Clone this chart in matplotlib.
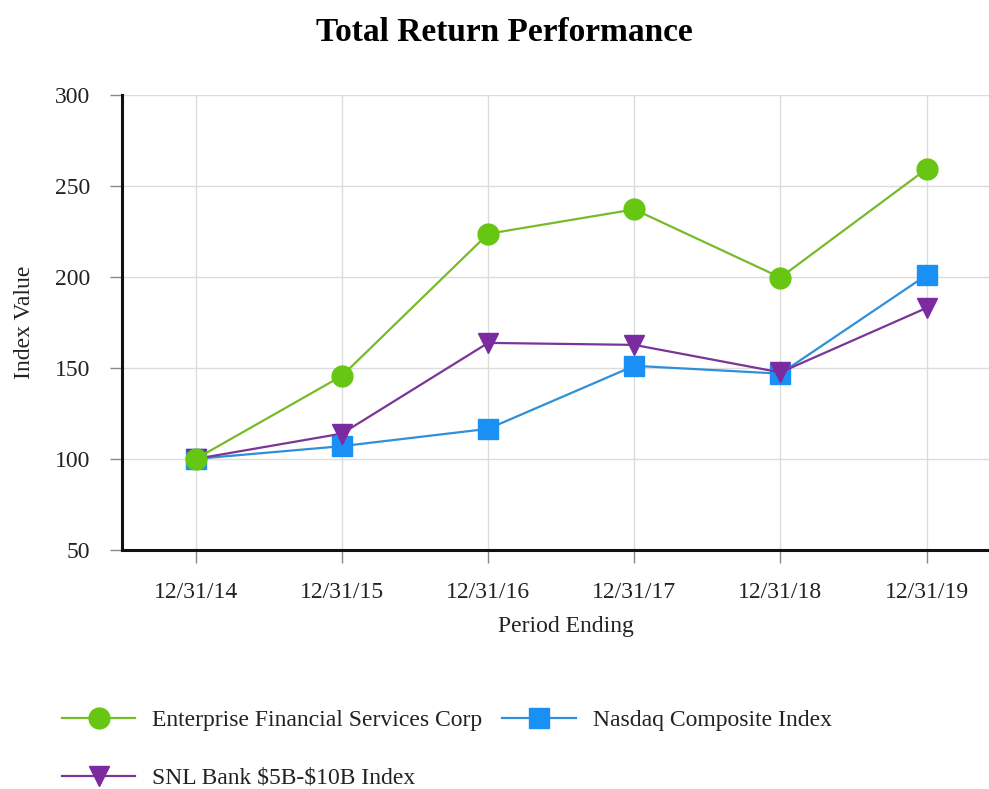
import matplotlib
matplotlib.use('Agg')
import matplotlib.pyplot as plt
from matplotlib.lines import Line2D

periods = ['12/31/14', '12/31/15', '12/31/16', '12/31/17', '12/31/18', '12/31/19']
enterprise = [100.0, 145.6, 223.6, 237.0, 199.6, 259.2]
nasdaq = [100.0, 107.0, 116.5, 151.1, 146.8, 200.9]
snl_bank = [100.0, 113.9, 163.7, 162.6, 147.5, 182.9]

names = ['Enterprise Financial Services Corp', 'Nasdaq Composite Index', r'SNL Bank \$5B-\$10B Index']

plt.rcParams['font.family'] = ['Liberation Serif', 'DejaVu Serif']

fig = plt.figure(figsize=(9.89, 7.89), dpi=100)
ax = fig.add_axes([0.1234, 0.303, 0.877, 0.577])
x = list(range(len(periods)))

l_nas, = ax.plot(x, nasdaq, color='#2f8fd8', lw=1.6, marker='s', ms=15,
                 mfc='#1a90f5', mec='#1a90f5', zorder=3)
l_snl, = ax.plot(x, snl_bank, color='#7a3596', lw=1.6, marker='v', ms=15,
                 mfc='#7b2aa0', mec='#7b2aa0', zorder=3)
l_ent, = ax.plot(x, enterprise, color='#77bb2a', lw=1.6, marker='o', ms=15,
                 mfc='#66c611', mec='#66c611', zorder=4)
ax.set_xlim(-0.505, 5.43)
ax.set_ylim(50, 300)
ax.set_yticks([50, 100, 150, 200, 250, 300])
ax.set_xticks(x)
ax.set_xticklabels(periods)
ax.grid(True, color='#dcdcdc', lw=1.0, zorder=0)
ax.set_axisbelow(True)
for s in ['top', 'right']:
    ax.spines[s].set_visible(False)
for s in ['left', 'bottom']:
    ax.spines[s].set_linewidth(2.2)
    ax.spines[s].set_color('#111111')
ax.tick_params(axis='both', length=9, width=1.0, color='#888888', labelsize=17,
               labelcolor='#222222')
ax.tick_params(axis='y', pad=14)
ax.tick_params(axis='x', pad=14)
ax.set_xlabel('Period Ending', fontsize=17, color='#222222')
ax.xaxis.set_label_coords(0.512, -0.145)
ax.set_ylabel('Index Value', fontsize=17, color='#222222', labelpad=14)

fig.suptitle('Total Return Performance', fontsize=24, fontweight='bold', y=0.978, x=0.51)

handles = [Line2D([], [], color=l.get_color(), lw=1.6, marker=l.get_marker(), ms=15,
                  mfc=l.get_markerfacecolor(), mec=l.get_markeredgecolor())
           for l in (l_ent, l_snl, l_nas)]
labels = [names[0], names[2], names[1]]
fig.legend(handles, labels, loc='upper left', bbox_to_anchor=(0.0627, 0.1005), ncol=2,
           frameon=False, fontsize=17, handlelength=3.1, handletextpad=0.72,
           columnspacing=0.85, labelspacing=1.53, borderpad=0, borderaxespad=0,
           labelcolor='#222222')

fig.savefig('out.png', dpi=100, facecolor='white')
